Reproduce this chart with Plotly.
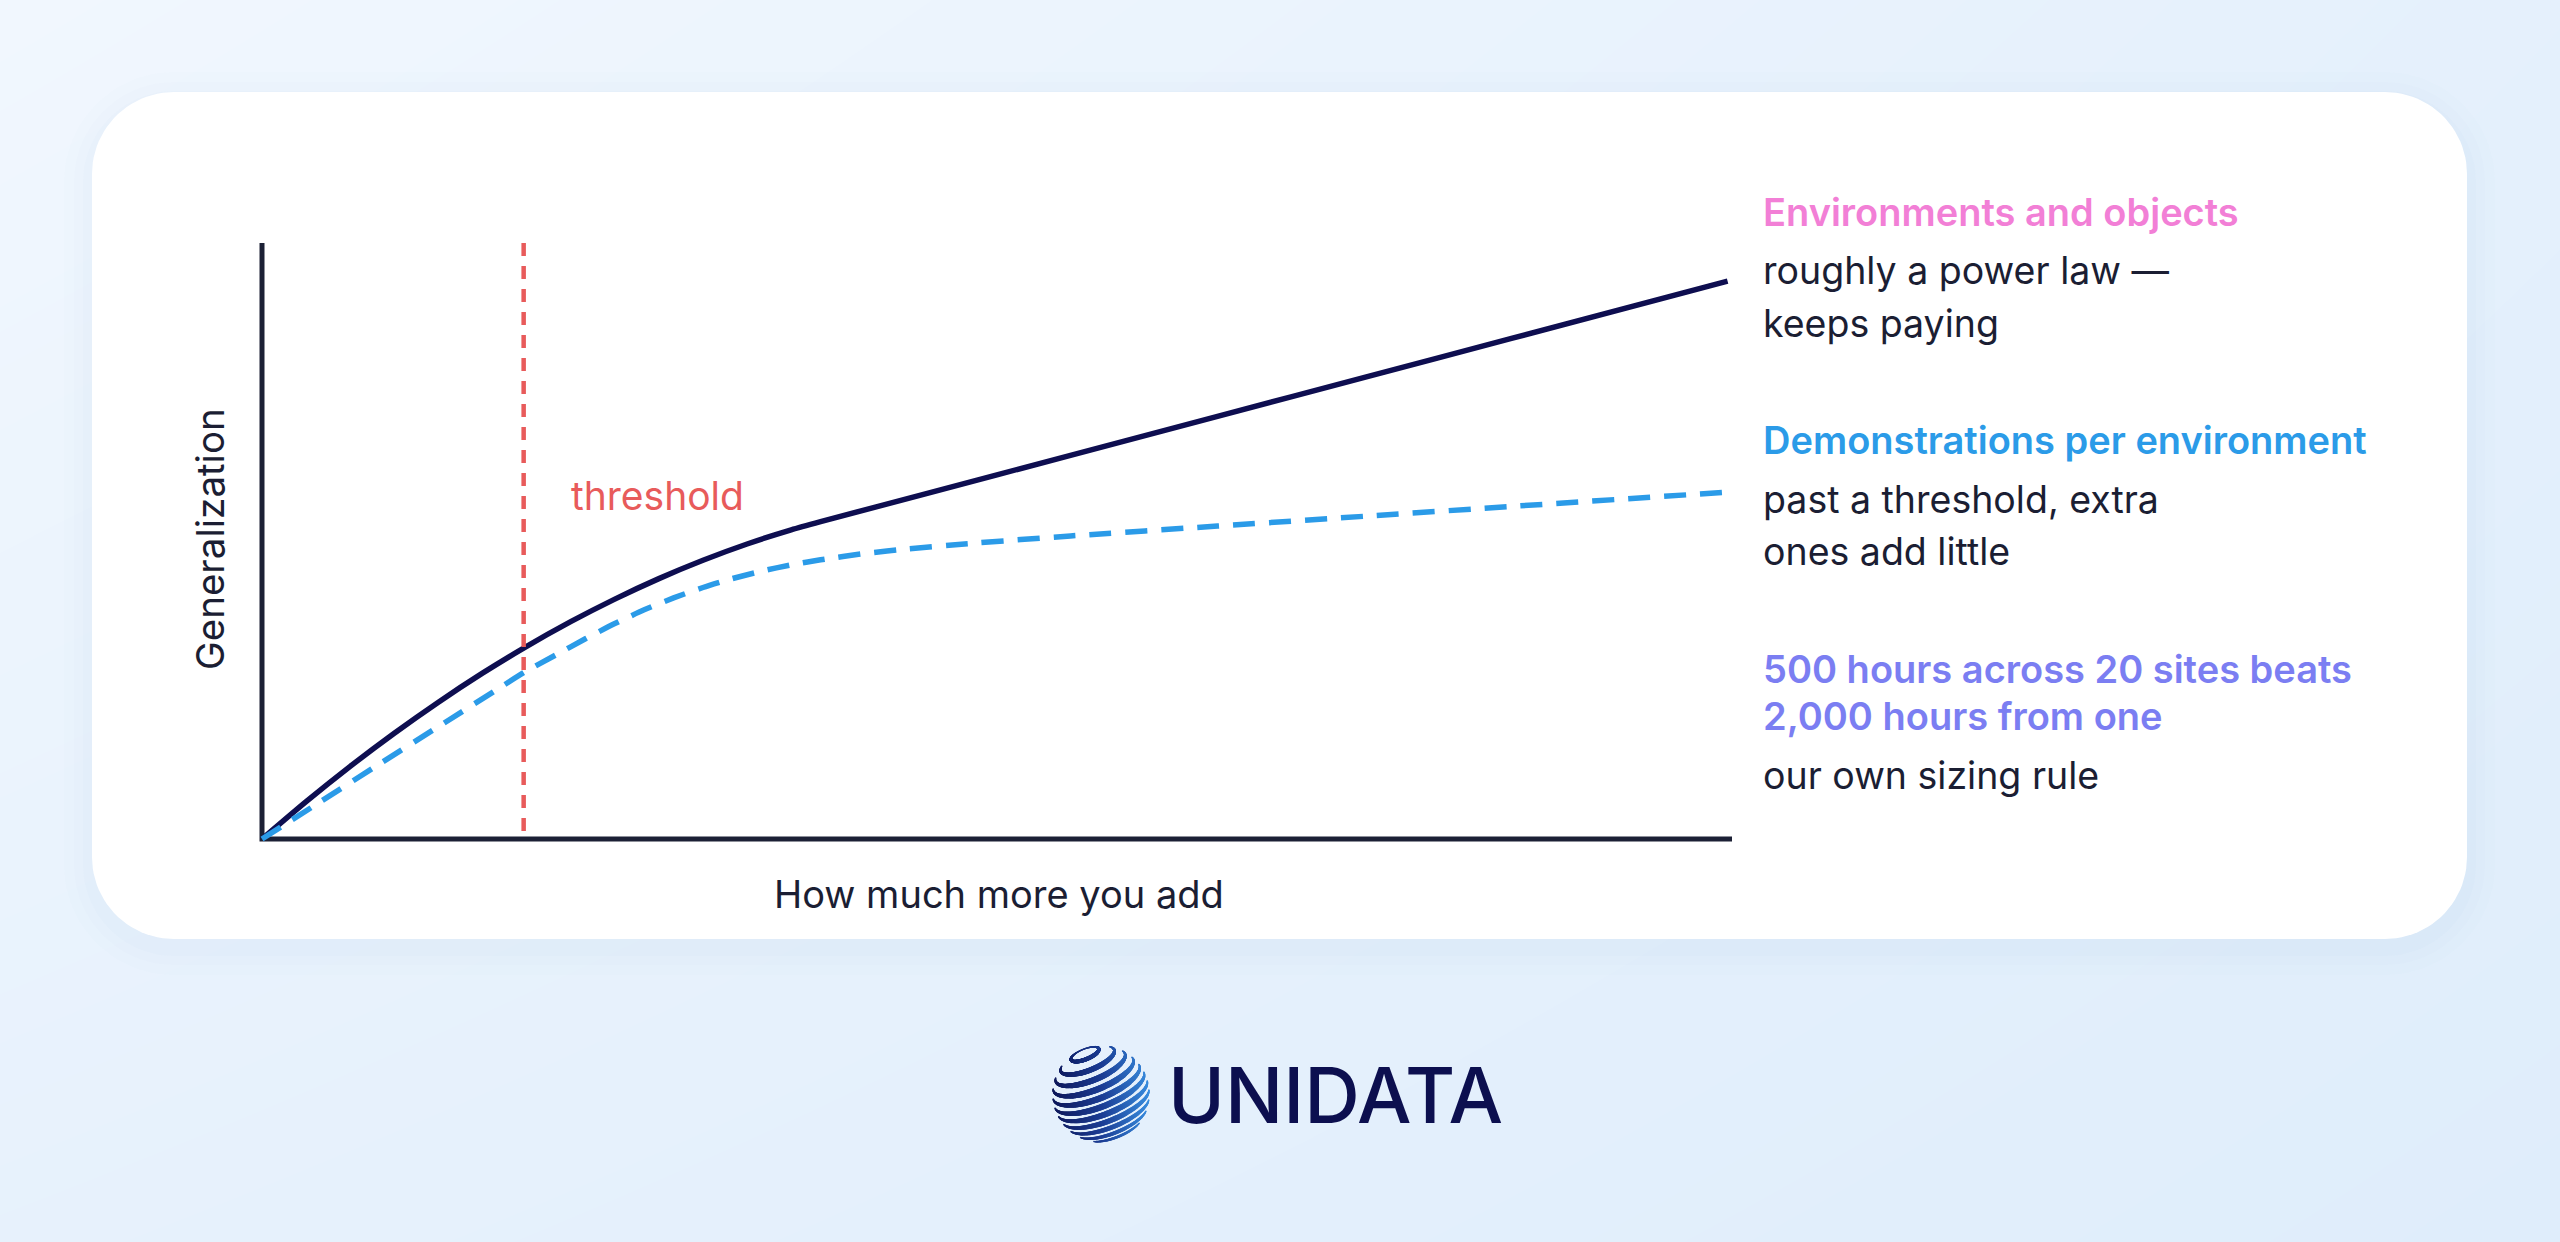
import numpy as np
import plotly.graph_objects as go

W, H = 2560, 1242

# ---------------- data ----------------
x_env = [0, 3, 6, 9, 12, 15, 17.8, 21, 24, 27, 30, 33, 36, 38, 45, 55, 65, 75, 85, 99.7]
y_env = [0, 6.27, 12.19, 17.75, 22.96, 27.82, 32.03, 36.46, 40.25, 43.69, 46.77, 49.50,
         51.87, 53.25, 57.83, 64.37, 70.91, 77.45, 83.99, 93.6]

x_demo = [0, 4, 8, 12, 16, 17.8, 20, 22, 24, 26, 28, 30, 32, 34, 36, 38, 41, 44, 48,
          55, 65, 75, 85, 99.7]
y_demo = [0, 6.3, 12.6, 18.85, 25.1, 27.9, 30.9, 33.6, 36.15, 38.45, 40.45, 42.2, 43.7,
          44.95, 46.0, 46.85, 47.9, 48.7, 49.55, 50.85, 52.5, 54.15, 55.8, 58.2]

threshold_x = 17.8
axis_max = 100

x_title = "How much more you add"
y_title = "Generalization"
threshold_label = "threshold"

blocks = [
    ("Environments and objects", "#f27fd6", ["roughly a power law —", "keeps paying"]),
    ("Demonstrations per environment", "#2b9be8", ["past a threshold, extra", "ones add little"]),
    ("500 hours across 20 sites beats<br>2,000 hours from one", "#7b7ef2", ["our own sizing rule"]),
]

globe_lat = [0.95, 0.8, 0.63, 0.45, 0.27, 0.09, -0.09, -0.27, -0.45, -0.63, -0.8]

FONT = "Inter"
TEXT = "#1b1e33"
NAVY = "#0e0e50"
BLUE = "#2b9be8"
RED = "#e85b5b"
AXIS = "#1c2035"

fig = go.Figure()

# ---------------- background (subplot 1, pixel coords) ----------------
fig.add_trace(go.Heatmap(
    z=[[1.0, 0.45], [0.55, 0.2]], x=[0, W], y=[0, H], zsmooth="best",
    colorscale=[[0, "#dfedfb"], [1, "#f1f7fe"]], showscale=False,
    hoverinfo="skip", xaxis="x", yaxis="y"))


def rrect(x0, y0, x1, y1, r, n=24):
    pts = []
    corners = [(x1 - r, y0 + r, -90, 0), (x1 - r, y1 - r, 0, 90),
               (x0 + r, y1 - r, 90, 180), (x0 + r, y0 + r, 180, 270)]
    for cx, cy, a0, a1 in corners:
        for a in np.linspace(np.radians(a0), np.radians(a1), n):
            pts.append((cx + r * np.cos(a), cy + r * np.sin(a)))
    pts.append(pts[0])
    xs, ys = zip(*pts)
    return list(xs), list(ys)


cx0, cy0, cx1, cy1, cr = 92, 92, 2467, 939, 82
for s, op in [(28, 0.012), (18, 0.015), (9, 0.02)]:
    xs, ys = rrect(cx0 - s, cy0 - s + 8, cx1 + s, cy1 + s + 8, cr + s)
    fig.add_trace(go.Scatter(x=xs, y=ys, fill="toself", mode="lines",
                             line=dict(width=0), fillcolor=f"rgba(110,150,210,{op})",
                             hoverinfo="skip", xaxis="x", yaxis="y"))
xs, ys = rrect(cx0, cy0, cx1, cy1, cr)
fig.add_trace(go.Scatter(x=xs, y=ys, fill="toself", mode="lines",
                         line=dict(width=0), fillcolor="#ffffff",
                         hoverinfo="skip", xaxis="x", yaxis="y"))

# ---------------- main chart (subplot 2) ----------------
fig.add_trace(go.Scatter(x=[0, 0, axis_max], y=[axis_max, 0, 0], mode="lines",
                         line=dict(color=AXIS, width=5), hoverinfo="skip",
                         xaxis="x2", yaxis="y2"))
fig.add_trace(go.Scatter(x=x_env, y=y_env, mode="lines",
                         line=dict(color=NAVY, width=5.5, shape="spline", smoothing=0.6),
                         xaxis="x2", yaxis="y2"))
fig.add_trace(go.Scatter(x=x_demo, y=y_demo, mode="lines",
                         line=dict(color=BLUE, width=5.5, shape="spline", smoothing=0.6,
                                   dash="22px,14px"),
                         xaxis="x2", yaxis="y2"))
fig.add_trace(go.Scatter(x=[threshold_x, threshold_x], y=[axis_max, 0], mode="lines",
                         line=dict(color=RED, width=4.5, dash="13px,10px"),
                         xaxis="x2", yaxis="y2"))

# ---------------- globe logo (subplot 3) ----------------
alpha, beta = np.radians(20), np.radians(22)
gx, gy, gc, gs = [], [], [], []
for s in globe_lat:
    phi = np.arcsin(s)
    t = np.linspace(0, 2 * np.pi, 500)
    X = np.cos(phi) * np.cos(t)
    Y = np.full_like(t, s)
    Z = np.cos(phi) * np.sin(t)
    Y1 = Y * np.cos(alpha) - Z * np.sin(alpha)
    Z1 = Z * np.cos(alpha) + Y * np.sin(alpha)
    X2 = X * np.cos(beta) - Y1 * np.sin(beta)
    Y2 = X * np.sin(beta) + Y1 * np.cos(beta)
    m = Z1 > 0.02
    gx += list(X2[m]); gy += list(Y2[m]); gc += list(X2[m])
    gs += list(1.2 + 5.0 * Z1[m])
fig.add_trace(go.Scatter(x=gx, y=gy, mode="markers",
                         marker=dict(size=gs, color=gc, cmin=-1, cmax=1,
                                     colorscale=[[0, "#101a5c"], [0.5, "#1d3f96"], [1, "#3a8fe0"]],
                                     line=dict(width=0)),
                         hoverinfo="skip", xaxis="x3", yaxis="y3"))

# ---------------- layout ----------------
plot_left, plot_right = 262, 1732
plot_top, plot_bottom = 243, 839
pad = 2
ppx = (plot_right - plot_left) / axis_max
ppy = (plot_bottom - plot_top) / axis_max
xd = [(plot_left - pad * ppx) / W, (plot_right + pad * ppx) / W]
yd = [1 - (plot_bottom + pad * ppy) / H, 1 - (plot_top - pad * ppy) / H]

gcx, gcy, gr = 1101, 1094, 50
hidden = dict(visible=False, showgrid=False, zeroline=False, fixedrange=True)

fig.update_layout(
    width=W, height=H, margin=dict(l=0, r=0, t=0, b=0),
    paper_bgcolor="#e6f1fc", plot_bgcolor="rgba(0,0,0,0)", showlegend=False,
    xaxis=dict(domain=[0, 1], range=[0, W], anchor="y", **hidden),
    yaxis=dict(domain=[0, 1], range=[H, 0], anchor="x", **hidden),
    xaxis2=dict(domain=xd, range=[-pad, axis_max + pad], anchor="y2", **hidden),
    yaxis2=dict(domain=yd, range=[-pad, axis_max + pad], anchor="x2", **hidden),
    xaxis3=dict(domain=[(gcx - gr) / W, (gcx + gr) / W], range=[-1.04, 1.04], anchor="y3", **hidden),
    yaxis3=dict(domain=[1 - (gcy + gr) / H, 1 - (gcy - gr) / H], range=[-1.04, 1.04], anchor="x3", **hidden),
)


def ann(text, xp, yp, size=36, color=TEXT, weight=400, xanchor="left", angle=0):
    fig.add_annotation(text=text, x=xp / W, y=1 - yp / H, xref="paper", yref="paper",
                       xanchor=xanchor, yanchor="middle", showarrow=False, textangle=angle,
                       align="left",
                       font=dict(family=FONT, size=size, color=color, weight=weight))


# axis titles
ann(y_title, 210, 539, size=38.5, xanchor="center", angle=-90)
ann(x_title, 999, 894, size=38, xanchor="center")

# threshold label in data coords
fig.add_annotation(text=threshold_label, x=20.9, y=57.7, xref="x2", yref="y2",
                   xanchor="left", yanchor="middle", showarrow=False,
                   font=dict(family=FONT, size=39, color=RED))

# right-side notes
head_y = [212, 440, 669]
rx = 1761
for (head, col, body), hy in zip(blocks, head_y):
    lines = head.split("<br>")
    y = hy
    for ln in lines:
        ann(ln, rx, y, size=38, color=col, weight=600)
        y += 47
    y += 12
    for ln in body:
        ann(ln, rx, y, size=37.5, color=TEXT)
        y += 52

# logo text
ann("UNIDATA", 1166, 1095, size=77, color="#0c0f4f", weight=500)

fig.write_html("out.html", config={"displayModeBar": False},
               post_script="document.body.style.margin='0';document.body.style.overflow='hidden';")
